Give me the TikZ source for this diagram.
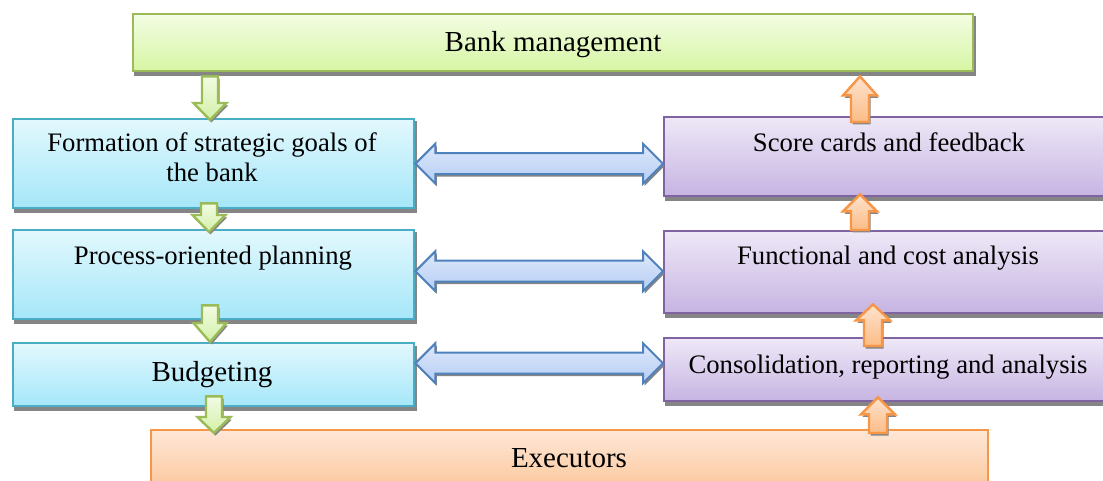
\documentclass[tikz,border=0pt]{standalone}
\usepackage{fontspec}
\setmainfont{Liberation Serif}
\usetikzlibrary{calc,backgrounds}
\definecolor{grnB}{HTML}{9BBB59}
\definecolor{grnT}{HTML}{F3FDE3}
\definecolor{grnBot}{HTML}{D6F5A3}
\definecolor{bluB}{HTML}{4BACC6}
\definecolor{bluT}{HTML}{E2F8FD}
\definecolor{bluBot}{HTML}{A5E7F9}
\definecolor{purB}{HTML}{8064A2}
\definecolor{purT}{HTML}{EEE8F7}
\definecolor{purBot}{HTML}{C6B4E2}
\definecolor{orB}{HTML}{F79646}
\definecolor{orT}{HTML}{FEE7D6}
\definecolor{orBot}{HTML}{FBBD88}
\definecolor{arB}{HTML}{4F81BD}
\definecolor{arT}{HTML}{DEE8FB}
\definecolor{arBot}{HTML}{B5CDF4}
\definecolor{gaT}{HTML}{F2FBE4}
\definecolor{gaBot}{HTML}{D3F0A6}
\definecolor{oaT}{HTML}{FEE3CE}
\definecolor{oaBot}{HTML}{FBBC86}
\tikzset{
  box/.style={draw, line width=2.4pt, rectangle, inner sep=0pt, anchor=north west},
  bankbox/.style={box, draw=grnB, top color=grnT, bottom color=grnBot},
  leftbox/.style={box, draw=bluB, top color=bluT, bottom color=bluBot},
  rightbox/.style={box, draw=purB, top color=purT, bottom color=purBot},
  execbox/.style={box, draw=orB, top color=orT, bottom color=orBot},
  lbl/.style={font=\fontsize{29}{31}\selectfont, anchor=base, inner sep=0pt},
  lblsmall/.style={lbl, font=\fontsize{26.7}{30}\selectfont},
  shadowc/.style={fill=black!48},
  garrow/.style={draw=grnB, line width=2.4pt, line join=miter, top color=gaT, bottom color=gaBot},
  oarrow/.style={draw=orB, line width=2.4pt, line join=miter, top color=oaT, bottom color=oaBot},
  barrow/.style={draw=arB, line width=2pt, line join=miter, top color=arT, bottom color=arBot},
}
% single block arrow: style, start, tip, shaft half width, head half width, head length
\newcommand{\blockarrow}[6]{%
  \coordinate (hb) at ($#3!#6!#2$);
  \def\mypath{($#2!#4!90:#3$) -- ($(hb)!#4!90:#3$) -- ($(hb)!#5!90:#3$) -- #3
    -- ($(hb)!#5!-90:#3$) -- ($(hb)!#4!-90:#3$) -- ($#2!#4!-90:#3$) -- cycle}
  \fill[shadowc, transform canvas={shift={(1.5pt,-2.5pt)}}] \mypath;
  \path[#1] \mypath;
}
% double block arrow: style, end A, end B, shaft half, head half, head length
\newcommand{\dblarrow}[6]{%
  \coordinate (ha) at ($#2!#6!#3$);
  \coordinate (hc) at ($#3!#6!#2$);
  \def\mypath{#2 -- ($(ha)!#5!90:#3$) -- ($(ha)!#4!90:#3$) -- ($(hc)!#4!90:#3$)
    -- ($(hc)!#5!90:#3$) -- #3 -- ($(hc)!#5!-90:#3$) -- ($(hc)!#4!-90:#3$)
    -- ($(ha)!#4!-90:#3$) -- ($(ha)!#5!-90:#3$) -- cycle}
  \fill[shadowc, transform canvas={shift={(1.5pt,-2.5pt)}}] \mypath;
  \path[#1] \mypath;
}
\begin{document}
\begin{tikzpicture}[x=1pt,y=-1pt]
\path[use as bounding box, clip] (0,0) rectangle (1103,481);
% boxes
\node[bankbox, minimum width=840pt, minimum height=57pt] (bank) at (132,13) {};
\node[leftbox, minimum width=401pt, minimum height=89pt] (form) at (12,118) {};
\node[leftbox, minimum width=401pt, minimum height=89pt] (proc) at (12,229) {};
\node[leftbox, minimum width=401pt, minimum height=63pt] (budg) at (12,342) {};
\node[rightbox, minimum width=452pt, minimum height=79pt] (score) at (663,116) {};
\node[rightbox, minimum width=452pt, minimum height=82pt] (func) at (663,230) {};
\node[rightbox, minimum width=452pt, minimum height=63pt] (cons) at (663,337) {};
\node[execbox, minimum width=837pt, minimum height=80pt] (exec) at (150,429) {};
% white page and shadows of boxes
\begin{pgfonlayer}{background}
  \fill[white] (0,0) rectangle (1103,481);
  \foreach \b in {bank,form,proc,budg,score,func,cons}{
    \fill[shadowc] ($(\b.north west)+(2,3.5)$) rectangle ($(\b.south east)+(2,3.5)$);
  }
\end{pgfonlayer}
% texts
\node[lbl] (tbank) at (553,52) {Bank management};
\node[lblsmall] (tform1) at (212,152) {Formation of strategic goals of};
\node[lblsmall] (tform2) at (212,182) {the bank};
\node[lblsmall] (tproc) at (213,265) {Process-oriented planning};
\node[lbl] (tbudg) at (212,381) {Budgeting};
\node[lblsmall] (tscore) at (889,152) {Score cards and feedback};
\node[lblsmall] (tfunc) at (888,265) {Functional and cost analysis};
\node[lblsmall] (tcons) at (888,373) {Consolidation, reporting and analysis};
\node[lbl] (texec) at (569,467) {Executors};
% column coordinates
\coordinate (gx1) at (210,0);
\coordinate (gx2) at (209,0);
\coordinate (gx3) at (210,0);
\coordinate (gx4) at (214,0);
\coordinate (ox1) at (860,0);
\coordinate (ox2) at (860,0);
\coordinate (ox3) at (873,0);
\coordinate (ox4) at (878,0);
% green arrows (down)
\blockarrow{garrow}{($(bank.south -| gx1)+(0,4)$)}{($(form.north -| gx1)+(0,2)$)}{8pt}{16.5pt}{17pt}
\blockarrow{garrow}{($(form.south -| gx2)+(0,-6)$)}{($(proc.north -| gx2)+(0,3)$)}{8pt}{16.5pt}{17pt}
\blockarrow{garrow}{($(proc.south -| gx3)+(0,-15)$)}{($(budg.north -| gx3)+(0,0)$)}{8pt}{16.5pt}{19pt}
\blockarrow{garrow}{($(budg.south -| gx4)+(0,-11)$)}{($(exec.north -| gx4)+(0,4)$)}{8pt}{16.5pt}{16pt}
% orange arrows (up)
\blockarrow{oarrow}{($(score.north -| ox1)+(0,6)$)}{($(bank.south -| ox1)+(0,4)$)}{9pt}{17pt}{19pt}
\blockarrow{oarrow}{($(func.north -| ox2)+(0,0)$)}{($(score.south -| ox2)+(0,-3)$)}{9pt}{17pt}{17pt}
\blockarrow{oarrow}{($(cons.north -| ox3)+(0,9)$)}{($(func.south -| ox3)+(0,-10)$)}{9pt}{17pt}{16pt}
\blockarrow{oarrow}{($(exec.north -| ox4)+(0,4)$)}{($(cons.south -| ox4)+(0,-5)$)}{9pt}{17pt}{17pt}
% blue double arrows
\dblarrow{barrow}{(form.east)}{(form.east -| score.west)}{10.5pt}{20pt}{20pt}
\dblarrow{barrow}{($(proc.east)+(0,-3.5)$)}{($(proc.east -| func.west)+(0,-3.5)$)}{10.5pt}{20pt}{20pt}
\dblarrow{barrow}{($(budg.east)+(0,-11.5)$)}{($(budg.east -| cons.west)+(0,-11.5)$)}{10.5pt}{20pt}{20pt}
\end{tikzpicture}
\end{document}
